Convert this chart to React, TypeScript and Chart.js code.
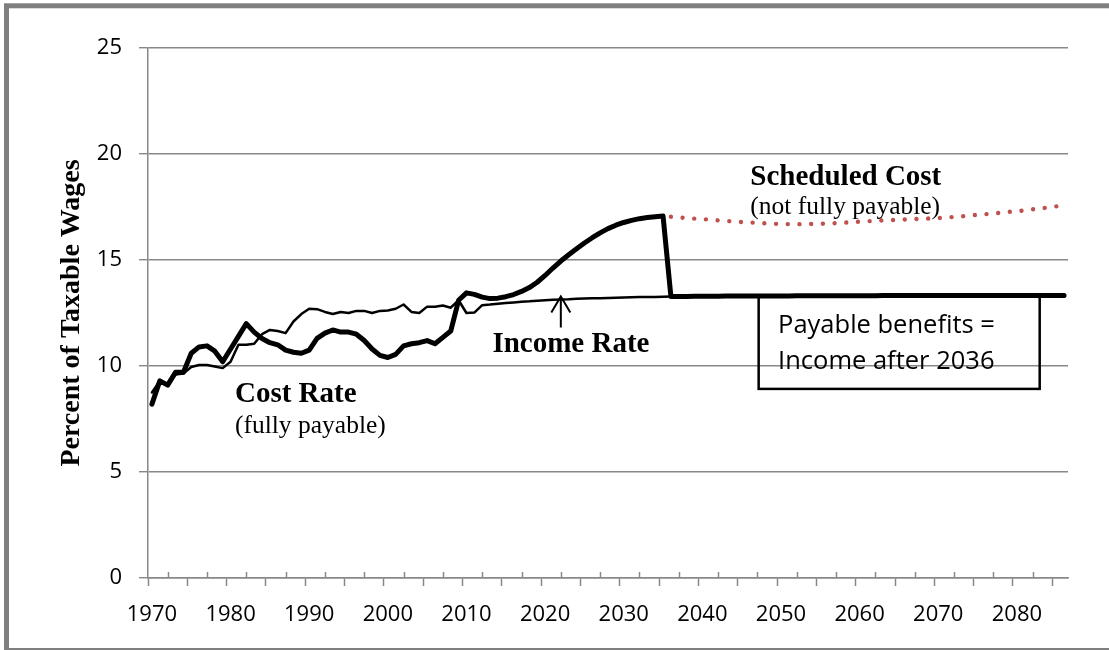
import React, { useEffect, useRef } from 'react';
import { Chart, registerables } from 'chart.js';

Chart.register(...registerables);

// ---------- categories ----------
const FIRST_YEAR = 1970;
const LAST_YEAR = 2086;
const years: string[] = [];
for (let yr = FIRST_YEAR; yr <= LAST_YEAR; yr++) years.push(String(yr));

// ---------- series (percent of taxable wages) ----------
// Cost rate (fully payable): 1970..2086
const costRate: number[] = [
  8.2, 9.3, 9.1, 9.7, 9.7, 10.6, 10.9, 10.95, 10.7, 10.2, // 1970-1979
  10.8, 11.4, 12.0, 11.6, 11.3, 11.1, 11.0, 10.75, 10.65, 10.6, // 1980-1989
  10.75, 11.3, 11.55, 11.7, 11.6, 11.6, 11.5, 11.2, 10.8, 10.5, // 1990-1999
  10.4, 10.55, 10.95, 11.05, 11.1, 11.2, 11.05, 11.35, 11.65, 13.1, // 2000-2009
  13.45, 13.38, 13.25, 13.18, 13.2, 13.27, 13.37, 13.52, 13.7, 13.95, // 2010-2019
  14.27, 14.62, 14.95, 15.25, 15.53, 15.8, 16.05, 16.28, 16.48, 16.64, // 2020-2029
  16.77, 16.87, 16.95, 17.0, 17.04, 17.07, 13.28, 13.28, 13.28, 13.29, // 2030-2039
  13.29, 13.29, 13.29, 13.3, 13.3, 13.3, 13.3, 13.3, 13.3, 13.3, // 2040-2049
  13.3, 13.3, 13.31, 13.31, 13.31, 13.31, 13.31, 13.31, 13.31, 13.31, // 2050-2059
  13.31, 13.31, 13.31, 13.32, 13.32, 13.32, 13.32, 13.32, 13.32, 13.32, // 2060-2069
  13.32, 13.32, 13.32, 13.32, 13.32, 13.32, 13.33, 13.33, 13.33, 13.33, // 2070-2079
  13.33, 13.33, 13.33, 13.33, 13.33, 13.33, 13.33, // 2080-2086
];

// Income rate: 1970..2086
const incomeRate: number[] = [
  8.75, 9.3, 9.15, 9.6, 9.65, 9.95, 10.05, 10.05, 9.98, 9.9, // 1970-1979
  10.2, 11.0, 11.0, 11.05, 11.5, 11.7, 11.65, 11.55, 12.1, 12.45, // 1980-1989
  12.7, 12.68, 12.55, 12.45, 12.55, 12.5, 12.6, 12.6, 12.5, 12.6, // 1990-1999
  12.62, 12.7, 12.9, 12.55, 12.5, 12.8, 12.8, 12.85, 12.75, 13.1, // 2000-2009
  12.5, 12.52, 12.87, 12.9, 12.94, 12.97, 13.0, 13.03, 13.05, 13.08, // 2010-2019
  13.1, 13.12, 13.14, 13.15, 13.17, 13.18, 13.19, 13.2, 13.21, 13.22, // 2020-2029
  13.23, 13.24, 13.25, 13.26, 13.26, 13.27, 13.28, 13.28, 13.28, 13.29, // 2030-2039
  13.29, 13.29, 13.29, 13.3, 13.3, 13.3, 13.3, 13.3, 13.3, 13.3, // 2040-2049
  13.3, 13.3, 13.31, 13.31, 13.31, 13.31, 13.31, 13.31, 13.31, 13.31, // 2050-2059
  13.31, 13.31, 13.31, 13.32, 13.32, 13.32, 13.32, 13.32, 13.32, 13.32, // 2060-2069
  13.32, 13.32, 13.32, 13.32, 13.32, 13.32, 13.33, 13.33, 13.33, 13.33, // 2070-2079
  13.33, 13.33, 13.33, 13.33, 13.33, 13.33, 13.33, // 2080-2086
];

// Scheduled cost (not fully payable): 2036..2086
const SCHEDULED_START = 2036;
const scheduledCost: number[] = [
  17.04, 17.01, 16.98, 16.95, // 2036-2039
  16.93, 16.9, 16.87, 16.84, 16.82, 16.79, 16.77, 16.75, 16.73, 16.71, // 2040-2049
  16.7, 16.69, 16.69, 16.69, 16.7, 16.71, 16.72, 16.74, 16.76, 16.78, // 2050-2059
  16.81, 16.83, 16.85, 16.87, 16.88, 16.9, 16.91, 16.93, 16.94, 16.96, // 2060-2069
  16.98, 17.0, 17.03, 17.06, 17.1, 17.13, 17.16, 17.2, 17.23, 17.27, // 2070-2079
  17.3, 17.34, 17.39, 17.43, 17.48, 17.53, 17.57, // 2080-2086
];

const Y_MIN = 0;
const Y_MAX = 25;
const Y_STEP = 5;
const LABEL_EVERY = 10;
const MAJOR_TICK_EVERY = 5;

const AXIS_GRAY = '#888888';
const SERIF = '"Liberation Serif", "Times New Roman", serif';
const SANS = '"Open Sans", sans-serif';

const scheduledData: (number | null)[] = years.map((yStr) => {
  const i = Number(yStr) - SCHEDULED_START;
  return i >= 0 && i < scheduledCost.length ? scheduledCost[i] : null;
});

const annotationPlugin = {
  id: 'srAnnotations',
  beforeDraw(chart: any) {
    const { ctx } = chart;
    ctx.save();
    ctx.strokeStyle = '#7f7f7f';
    ctx.lineWidth = 5;
    ctx.strokeRect(6.5, 5.8, 1300, 644.7);
    ctx.restore();
  },
  afterDraw(chart: any) {
    const { ctx, scales } = chart;
    const xs = scales.x;
    const ys = scales.y;
    const px = (yr: number) => xs.getPixelForValue(yr - FIRST_YEAR);
    const py = (v: number) => ys.getPixelForValue(v);
    ctx.save();

    // minor (inside) ticks on the category axis, halfway between major ticks
    ctx.strokeStyle = AXIS_GRAY;
    ctx.lineWidth = 1.5;
    const bottom = chart.chartArea.bottom;
    for (let i = 2; i < years.length - 2; i += MAJOR_TICK_EVERY) {
      const x = Math.round(xs.getPixelForValue(i)) + 0.5;
      ctx.beginPath();
      ctx.moveTo(x, bottom - 6);
      ctx.lineTo(x, bottom);
      ctx.stroke();
    }

    ctx.fillStyle = '#000';
    ctx.textAlign = 'left';
    ctx.textBaseline = 'alphabetic';

    ctx.font = `bold 29px ${SERIF}`;
    ctx.fillText('Cost Rate', px(1980.56), py(8.28));
    ctx.fillText('Income Rate', px(2013.3), py(10.64));
    ctx.fillText('Scheduled Cost', px(2046.1), py(18.56));

    ctx.font = `25.5px ${SERIF}`;
    ctx.fillText('(fully payable)', px(1980.56), py(6.86));
    ctx.fillText('(not fully payable)', px(2046.1), py(17.15));

    // arrow to the income rate line
    const ax = px(2022);
    const tipY = py(13.28);
    const tailY = py(11.82);
    ctx.strokeStyle = '#000';
    ctx.lineWidth = 2;
    ctx.beginPath();
    ctx.moveTo(ax, tailY);
    ctx.lineTo(ax, tipY);
    ctx.moveTo(ax - 9.5, tipY + 16);
    ctx.lineTo(ax, tipY);
    ctx.lineTo(ax + 9.5, tipY + 16);
    ctx.stroke();

    // text box
    const bx1 = px(2047.16);
    const bx2 = px(2082.9);
    const by1 = py(13.33);
    const by2 = py(8.92);
    ctx.lineWidth = 2.5;
    ctx.strokeRect(bx1, by1, bx2 - bx1, by2 - by1);
    ctx.font = `25.5px ${SANS}`;
    ctx.fillText('Payable benefits =', px(2049.63), py(11.56));
    ctx.fillText('Income after 2036', px(2049.63), py(9.86));

    ctx.restore();
  },
};

export default function App() {
  const canvasRef = useRef<HTMLCanvasElement | null>(null);

  useEffect(() => {
    document.body.style.margin = '0';
    const canvas = canvasRef.current;
    if (!canvas) return;

    const chart = new Chart(canvas, {
      type: 'line',
      data: {
        labels: years,
        datasets: [
          {
            label: 'Cost Rate',
            data: costRate,
            borderColor: '#000',
            borderWidth: 5,
            pointRadius: 0,
            tension: 0,
            borderJoinStyle: 'round',
            borderCapStyle: 'round',
            fill: false,
          },
          {
            label: 'Income Rate',
            data: incomeRate,
            borderColor: '#000',
            borderWidth: 2.5,
            pointRadius: 0,
            tension: 0,
            borderJoinStyle: 'round',
            borderCapStyle: 'round',
            fill: false,
          },
          {
            label: 'Scheduled Cost',
            data: scheduledData,
            borderColor: '#c0504d',
            borderWidth: 4.4,
            borderDash: [0.01, 11.7],
            borderCapStyle: 'round',
            pointRadius: 0,
            tension: 0,
            spanGaps: false,
            fill: false,
          },
        ],
      },
      options: {
        responsive: false,
        animation: false,
        events: [],
        layout: { padding: { top: 48, right: 41, left: 0, bottom: 0 } },
        plugins: {
          legend: { display: false },
          tooltip: { enabled: false },
          title: { display: false },
        },
        scales: {
          x: {
            type: 'category',
            offset: true,
            afterFit: (scale: any) => {
              scale.height = 72;
            },
            border: { display: true, color: AXIS_GRAY, width: 1.5 },
            grid: {
              display: true,
              offset: true,
              drawOnChartArea: false,
              drawTicks: true,
              tickLength: 8,
              tickWidth: 1.5,
              tickColor: (ctx: any) =>
                ctx.type === 'tick' && ctx.index % MAJOR_TICK_EVERY === 0 ? AXIS_GRAY : 'rgba(0,0,0,0)',
            },
            ticks: {
              autoSkip: false,
              maxRotation: 0,
              minRotation: 0,
              padding: 16,
              color: '#000',
              font: { family: SANS, size: 22 },
              callback: (_v: any, index: number) => (index % LABEL_EVERY === 0 ? years[index] : ''),
            },
          },
          y: {
            min: Y_MIN,
            max: Y_MAX,
            afterFit: (scale: any) => {
              scale.width = 148;
            },
            border: { display: true, color: AXIS_GRAY, width: 1.5 },
            grid: {
              color: AXIS_GRAY,
              lineWidth: 1.4,
              drawTicks: true,
              tickLength: 9,
            },
            ticks: {
              stepSize: Y_STEP,
              padding: 17,
              color: '#000',
              font: { family: SANS, size: 22 },
            },
            title: {
              display: true,
              text: 'Percent of Taxable Wages',
              color: '#000',
              font: { family: SERIF, size: 28, weight: 'bold' },
              padding: { top: 55, bottom: 0 },
            },
          },
        },
      },
      plugins: [annotationPlugin],
    } as any);

    return () => chart.destroy();
  }, []);

  return (
    <div style={{ position: 'absolute', left: 0, top: 0, width: 1109, height: 650, background: '#fff' }}>
      <canvas ref={canvasRef} width={1109} height={650} style={{ display: 'block' }} />
    </div>
  );
}
